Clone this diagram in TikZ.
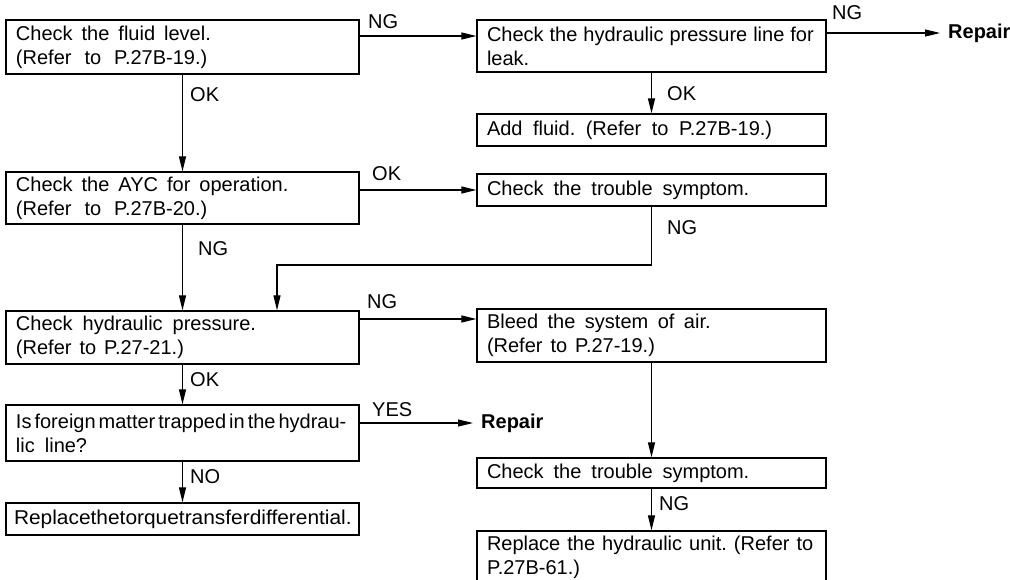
\documentclass[tikz,border=0pt]{standalone}
\usepackage{fontspec}
\usepackage{graphicx}
\setmainfont{Liberation Sans}
\usetikzlibrary{arrows.meta}
\newcommand\wsp[1]{\spaceskip=#1pt\relax}
\frenchspacing
\begin{document}
\begin{tikzpicture}[x=1pt,y=-1pt,
  font=\fontsize{20}{24}\selectfont,
  box/.style={draw, line width=1.2pt, rectangle, inner xsep=10pt, inner ysep=0pt,
              align=left, text width=329pt, minimum width=349pt},
  lbox/.style={box, text width=333pt, minimum width=353pt},
  arr/.style={line width=1.1pt, -{Triangle[length=15pt,width=7pt]}},
  lbl/.style={anchor=west, inner sep=0pt},
  rep/.style={anchor=west, inner xsep=8pt, inner ysep=0pt, font=\fontsize{20}{24}\selectfont\bfseries}
]
\fill[white] (0,0) rectangle (1010,579);
\useasboundingbox (0,0) rectangle (1010,579);

% boxes
\node[lbox, minimum height=54pt] (b1) at (182.5,47) {\wsp{9}Check the fluid level.\\\wsp{13}(Refer to P.27B-19.)};
\node[box, minimum height=52pt] (b2) at (651.5,46) {\wsp{6}\mbox{Check the hydraulic pressure line for}\\leak.};
\node[box, minimum height=32pt] (b3) at (651.5,130) {\wsp{10.5}Add fluid. (Refer to P.27B-19.)};
\node[lbox, minimum height=52pt] (b4) at (182.5,198) {\wsp{9}Check the AYC for operation.\\\wsp{13}(Refer to P.27B-20.)};
\node[box, minimum height=32pt] (b5) at (651.5,190) {\wsp{10}Check the trouble symptom.};
\node[lbox, minimum height=53pt] (b6) at (182.5,337.5) {\wsp{10}Check hydraulic pressure.\\\wsp{8}(Refer to P.27-21.)};
\node[box, minimum height=53pt] (b7) at (651.5,335.5) {\wsp{9.5}Bleed the system of air.\\\wsp{8}(Refer to P.27-19.)};
\node[lbox, minimum height=56pt] (b8) at (182.5,433) {\wsp{3}\mbox{Is foreign matter trapped in the hydrau-}\\\wsp{10}lic line?};
\node[lbox, minimum height=32pt, inner xsep=8pt, text width=337pt] (b9) at (182.5,519) {\scalebox{1.045}[1]{Replacethetorquetransferdifferential.}};
\node[box, minimum height=30pt] (b10) at (651.5,473) {\wsp{10}Check the trouble symptom.};
\node[box, minimum height=52pt] (b11) at (651.5,557) {\wsp{7}\mbox{Replace the hydraulic unit. (Refer to}\\P.27B-61.)};

% repair targets
\node[rep] (r1) at (940,33) {Repair};
\node[rep] (r2) at (473,423) {Repair};

% helper coordinates
\coordinate (h1) at (0,36);
\coordinate (h2) at (0,33);
\coordinate (h3) at (0,319);
\coordinate (h4) at (0,423);
\coordinate (fb1) at (651.5,265);
\coordinate (fb2) at (277,265);

% connectors
\draw[arr] (b1.east |- h1) -- (b2.west |- h1);
\draw[arr] (b2.east |- h2) -- (r1.west);
\draw[arr] (b2.south) -- (b3.north);
\draw[arr] (b1.south) -- (b4.north);
\draw[arr] (b4.east |- b5.west) -- (b5.west);
\draw[arr] (b5.south) -- (fb1) -- (fb2) -- (b6.north -| fb2);
\draw[arr] (b4.south) -- (b6.north);
\draw[arr] (b6.east |- h3) -- (b7.west |- h3);
\draw[arr] (b6.south) -- (b8.north);
\draw[arr] (b8.east |- h4) -- (r2.west);
\draw[arr] (b8.south) -- (b9.north);
\draw[arr] (b7.south) -- (b10.north);
\draw[arr] (b10.south) -- (b11.north);

% labels
\node[lbl] (l1) at (368,22) {NG};
\node[lbl] (l2) at (832,13) {NG};
\node[lbl] (l3) at (667,94) {OK};
\node[lbl] (l4) at (190,95) {OK};
\node[lbl] (l5) at (372,174) {OK};
\node[lbl] (l6) at (667,228) {NG};
\node[lbl] (l7) at (198,249) {NG};
\node[lbl] (l8) at (367,302) {NG};
\node[lbl] (l9) at (190,380) {OK};
\node[lbl] (l10) at (372,410) {YES};
\node[lbl] (l11) at (190,477) {NO};
\node[lbl] (l12) at (659,504) {NG};
\end{tikzpicture}
\end{document}
